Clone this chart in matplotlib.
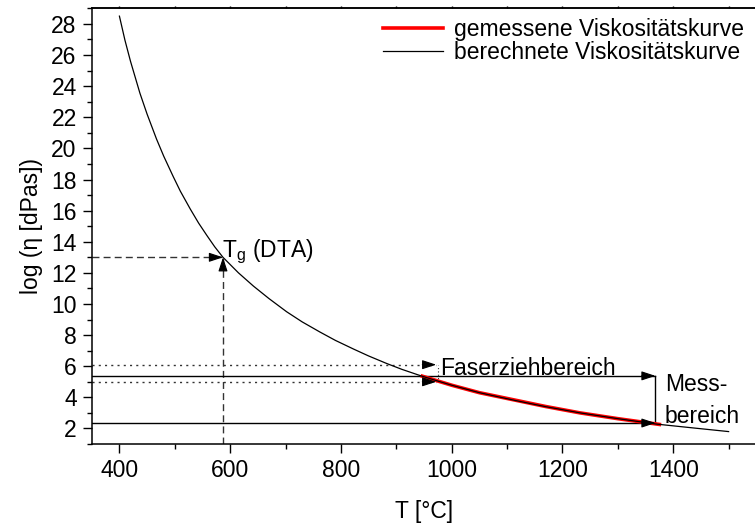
import numpy as np
import matplotlib
matplotlib.use('Agg')
from matplotlib import pyplot as plt
from matplotlib.ticker import MultipleLocator

plt.rcParams['font.family'] = ['Liberation Sans', 'DejaVu Sans']
plt.rcParams['mathtext.fontset'] = 'custom'
plt.rcParams['mathtext.rm'] = 'Liberation Sans'
plt.rcParams['mathtext.it'] = 'Liberation Sans'

# Calculated viscosity curve (VFT), T in degC, log(eta / dPas)
calc_T = [400, 410, 420, 437, 450, 467, 480, 497, 510, 528, 543, 558, 572, 587, 615,
          642, 670, 702, 730, 762, 790, 823, 850, 883, 910, 943, 970, 1000, 1050,
          1112, 1170, 1232, 1300, 1370, 1440, 1500]
calc_log = [28.5, 26.95, 25.6, 23.55, 22.2, 20.6, 19.5, 18.2, 17.25, 16.1, 15.2, 14.4,
            13.68, 13.0, 12.0, 11.15, 10.35, 9.5, 8.85, 8.2, 7.66, 7.1, 6.66, 6.17,
            5.8, 5.4, 5.1, 4.78, 4.3, 3.82, 3.4, 3.0, 2.63, 2.28, 2.02, 1.8]

# Measured viscosity curve
meas_T = [947, 975, 1000, 1050, 1112, 1170, 1232, 1300, 1375]
meas_log = [5.36, 5.05, 4.78, 4.3, 3.84, 3.41, 3.0, 2.63, 2.26]

# Glass transition from DTA
tg_T = 587
tg_log = 13.0

# Fibre drawing range and measuring range
draw_range = [5.0, 6.1]
draw_T = 972
meas_range = [2.35, 5.38]
meas_end_T = 1368

fs = 16.5
fig = plt.figure(figsize=(7.55, 5.23), dpi=100)
ax = fig.add_axes([0.1215, 0.151, 0.8802, 0.833])

ax.plot(meas_T, meas_log, color='red', lw=2.6, zorder=3, label='gemessene Viskositätskurve')
ax.plot(calc_T, calc_log, color='black', lw=0.9, zorder=4, label='berechnete Viskositätskurve')

xmin, ymin = 350, 1.0
head = dict(arrowstyle='-|>,head_length=0.85,head_width=0.28', color='black',
            lw=0.8, mutation_scale=10, shrinkA=0, shrinkB=0)


def arrow_head(x0, y0, x1, y1):
    ax.annotate('', xy=(x1, y1), xytext=(x0, y0), arrowprops=head, zorder=5)


# Tg markers
ax.plot([xmin, tg_T], [tg_log, tg_log], color='#333333', lw=1.0, ls=(0, (5, 3)))
ax.plot([tg_T, tg_T], [ymin, tg_log], color='#333333', lw=1.0, ls=(0, (5, 3)))
arrow_head(tg_T - 20, tg_log, tg_T, tg_log)
arrow_head(tg_T, tg_log - 0.6, tg_T, tg_log)
ax.text(tg_T - 2, tg_log, r'T$_\mathrm{g}$ (DTA)', fontsize=fs, va='baseline', ha='left')

# Fibre drawing range (dotted)
for yv in draw_range:
    ax.plot([xmin, draw_T], [yv, yv], color='#333333', lw=1.0, ls=(0, (1.5, 3)))
    arrow_head(draw_T - 25, yv, draw_T, yv)
ax.plot([draw_T + 3, draw_T + 3], draw_range, color='#333333', lw=0.8, ls=(0, (1, 2)))
ax.text(979, 5.45, 'Faserziehbereich', fontsize=fs, va='baseline', ha='left')

# Measuring range (solid)
for yv in meas_range:
    ax.plot([xmin, meas_end_T], [yv, yv], color='black', lw=1.0)
    arrow_head(meas_end_T - 25, yv, meas_end_T, yv)
ax.plot([meas_end_T, meas_end_T], meas_range, color='black', lw=1.0)
ax.text(1385, 4.38, 'Mess-', fontsize=fs, va='baseline', ha='left')
ax.text(1385, 2.35, 'bereich', fontsize=fs, va='baseline', ha='left')

ax.set_xlim(350, 1550)
ax.set_ylim(1, 29)
ax.xaxis.set_major_locator(MultipleLocator(200))
ax.xaxis.set_minor_locator(MultipleLocator(100))
ax.yaxis.set_major_locator(MultipleLocator(2))
ax.yaxis.set_minor_locator(MultipleLocator(1))
ax.tick_params(which='major', direction='out', length=6.8, width=1.0, labelsize=fs)
ax.tick_params(which='minor', direction='out', length=3.6, width=1.0)
ax.tick_params(axis='y', which='major', pad=4)
ax.tick_params(axis='x', which='major', pad=4)
for s in ax.spines.values():
    s.set_linewidth(1.1)

top = ax.secondary_xaxis('top')
top.xaxis.set_major_locator(MultipleLocator(100))
top.tick_params(direction='out', length=1.5, width=1.0, labelsize=0, labeltop=False)
top.spines['top'].set_linewidth(1.1)

ax.set_xlabel('T [°C]', fontsize=fs, labelpad=13)
ax.set_ylabel('log (η [dPas])', fontsize=fs, labelpad=6)

ax.legend(loc='upper left', bbox_to_anchor=(0.4245, 1.0), frameon=False, fontsize=fs,
          handlelength=2.6, handletextpad=0.5, labelspacing=0.0, borderaxespad=0)

fig.savefig('out.png', dpi=100)
